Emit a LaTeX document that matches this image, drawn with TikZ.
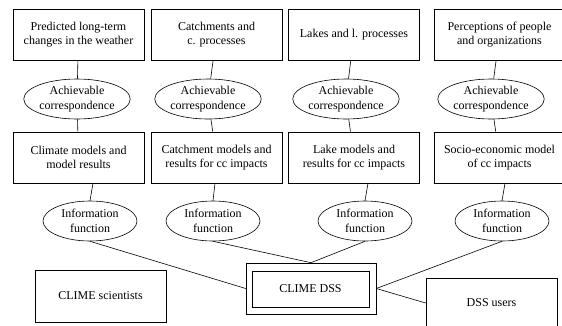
\documentclass[tikz,border=0pt]{standalone}
\usepackage{fontspec}
\setmainfont{Liberation Serif}
\usetikzlibrary{shapes.geometric}
\begin{document}
\begin{tikzpicture}[x=1pt,y=-1pt,line width=0.6pt,
		every node/.append style={font=\fontsize{12}{14.5}\selectfont,inner sep=0pt,align=center},
		box/.style={draw,minimum width=131pt,minimum height=51pt},
		corr/.style={draw,ellipse,minimum width=94pt,minimum height=40pt}]
		\useasboundingbox (0,0) rectangle (562,325);
		% real world
		\node[box] (world1) at (78.5,34.5) {Predicted long-term\\changes in the weather};
		\node[box] (world2) at (216.5,34.5) {Catchments and\\c. processes};
		\node[box] (world3) at (354,34.5) {Lakes and l. processes};
		\node[box] (world4) at (499.5,34.5) {Perceptions of people\\and organizations};
		% achievable correspondence
		\node[corr] (corr1) at (77,99) {Achievable\\correspondence};
		\node[corr] (corr2) at (208,99) {Achievable\\correspondence};
		\node[corr] (corr3) at (346,99) {Achievable\\correspondence};
		\node[corr] (corr4) at (491,99) {Achievable\\correspondence};
		% models
		\node[box] (model1) at (78.5,157.5) {Climate models and\\model results};
		\node[box] (model2) at (216.5,157.5) {Catchment models and\\results for cc impacts};
		\node[box] (model3) at (354,157.5) {Lake models and\\results for cc impacts};
		\node[box] (model4) at (499.5,157.5) {Socio-economic model\\of cc impacts};
		% information function
		\node[corr] (info1) at (90,221) {Information\\function};
		\node[corr] (info2) at (213,221) {Information\\function};
		\node[corr] (info3) at (365,221) {Information\\function};
		\node[corr] (info4) at (502,221) {Information\\function};
		% bottom row
		\node[box,minimum height=52pt] (sci) at (100.5,296) {CLIME scientists};
		\node[box,minimum width=130pt] (dss) at (311,288.5) {};
		\node[draw,minimum width=117pt,minimum height=36pt] (dssin) at (310.5,289) {CLIME DSS};
		\node[box,minimum height=50pt] (users) at (491.5,303) {DSS users};
		% connectors
		\draw (world1) -- (corr1);
		\draw (world2) -- (corr2);
		\draw (world3) -- (corr3);
		\draw (world4) -- (corr4);
		\draw (corr1) -- (model1);
		\draw (corr2) -- (model2);
		\draw (corr3) -- (model3);
		\draw (corr4) -- (model4);
		\draw ([xshift=14.5pt]model1.south) -- (info1.north);
		\draw ([xshift=-1.5pt]model2.south) -- (info2.north);
		\draw ([xshift=14pt]model3.south) -- (info3.north);
		\draw ([xshift=5.5pt]model4.south) -- (info4.north);
		\draw (info1.south) -- (dss.west);
		\draw (info2.south) -- (dss.north);
		\draw (info3.south) -- (dss.north);
		\draw (info4.south) -- (dss.east);
		\draw (dss.east) -- (users.west);
	\end{tikzpicture}
\end{document}
